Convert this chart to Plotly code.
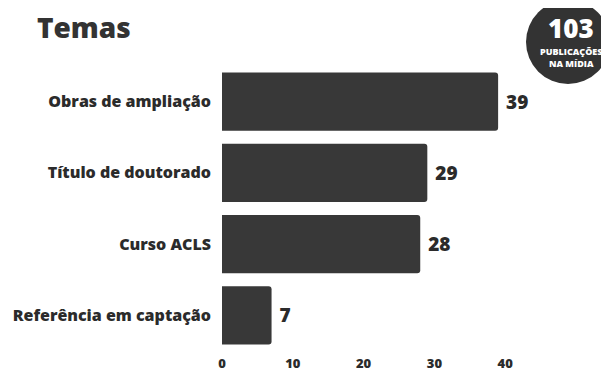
import plotly.graph_objects as go

# --- data ---
temas = ["Obras de ampliação", "Título de doutorado", "Curso ACLS", "Referência em captação"]
publicacoes = [39, 29, 28, 7]
total_publicacoes = 103
badge_label = "PUBLICAÇÕES<br>NA MÍDIA"
x_ticks = [0, 10, 20, 30, 40]

# --- layout geometry (page pixels; the page body adds an 8px margin) ---
OFF = 8
W, H = 609 - OFF, 372 - OFF
L, R, T, B = 222 - OFF, 83, 66 - OFF, 21
plot_w = W - L - R
plot_h = H - T - B


def px_x(px):
    return (px - OFF - L) / plot_w


def px_y(py):
    return (H - B - (py - OFF)) / plot_h


BAR = "#383838"
TXT = "#2b2b2b"
FONT = "Open Sans"

fig = go.Figure()
fig.add_trace(go.Bar(
    x=publicacoes, y=temas, orientation="h",
    marker=dict(color=BAR, cornerradius=3, line=dict(width=0)),
    text=[f" {v}" for v in publicacoes], textposition="outside",
    textfont=dict(family=FONT, size=19, color=TXT, weight=800),
    cliponaxis=False, hoverinfo="skip",
))

# badge in the top-right corner
cx, cy, r = 568, 42, 42
fig.add_shape(type="circle", xref="paper", yref="paper",
              x0=px_x(cx - r), x1=px_x(cx + r), y0=px_y(cy + r), y1=px_y(cy - r),
              fillcolor="#333333", line=dict(width=0))
fig.add_annotation(xref="paper", yref="paper", x=px_x(cx + 3), y=px_y(28),
                   xanchor="center", yanchor="middle", borderpad=0,
                   text=str(total_publicacoes), showarrow=False,
                   font=dict(family=FONT, size=26, color="white", weight=800))
fig.add_annotation(xref="paper", yref="paper", x=px_x(cx + 3), y=px_y(58),
                   xanchor="center", yanchor="middle", borderpad=0,
                   text=badge_label, showarrow=False,
                   font=dict(family=FONT, size=9, color="white", weight=800))

fig.update_layout(
    width=W, height=H,
    margin=dict(l=L, r=R, t=T, b=B, autoexpand=False),
    paper_bgcolor="white", plot_bgcolor="white",
    showlegend=False, bargap=0.18,
    title=dict(text="Temas", x=(37 - OFF) / W, xanchor="left",
               y=1 - (28 - OFF) / H, yanchor="middle",
               font=dict(family=FONT, size=28, color="#333333", weight=800)),
    xaxis=dict(range=[0, plot_w / 7.08], tickvals=x_ticks, showgrid=False,
               zeroline=False, showline=False, ticks="", automargin=False,
               ticklabelstandoff=3,
               tickfont=dict(family=FONT, size=13, color=TXT, weight=800)),
    yaxis=dict(categoryorder="array", categoryarray=temas[::-1], showgrid=False,
               zeroline=False, showline=False, ticks="", automargin=False,
               ticklabelstandoff=10,
               tickfont=dict(family=FONT, size=16, color=TXT, weight=800)),
)

fig.write_html("out.html")
